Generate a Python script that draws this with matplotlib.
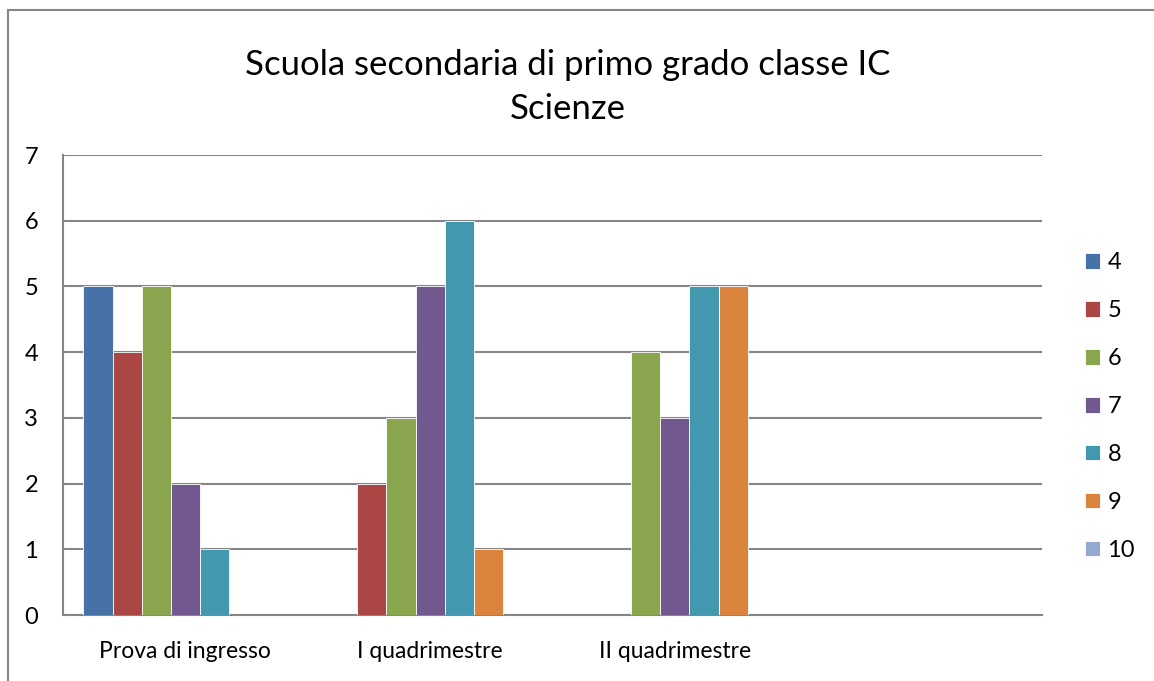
import numpy as np
import matplotlib.pyplot as plt
from matplotlib.patches import Rectangle

plt.rcParams['font.family'] = ['Lato', 'DejaVu Sans']

categorie = ['Prova di ingresso', 'I quadrimestre', 'II quadrimestre', '']
voti = ['4', '5', '6', '7', '8', '9', '10']
v4 = [5, 0, 0, 0]
v5 = [4, 2, 0, 0]
v6 = [5, 3, 4, 0]
v7 = [2, 5, 3, 0]
v8 = [1, 6, 5, 0]
v9 = [0, 1, 5, 0]
v10 = [0, 0, 0, 0]
serie = [v4, v5, v6, v7, v8, v9, v10]
colori = ['#4672A7', '#AA4643', '#89A54E', '#71588F', '#4198AF', '#DB843D', '#93A9CF']

fig = plt.figure(figsize=(11.54, 6.81), dpi=100)
# cornice del grafico (tagliata a destra e in basso)
fig.patches.append(Rectangle((8 / 1154, -0.1), 1.2, 1 - 10 / 681 + 0.1, transform=fig.transFigure,
                             fill=False, edgecolor='#868686', linewidth=1.5))

ax = fig.add_axes([63 / 1154, 1 - 615 / 681, (1042 - 63) / 1154, (615 - 155) / 681])
x = np.arange(len(categorie))
w = 0.119
for i, (s, c) in enumerate(zip(serie, colori)):
    ax.bar(x + (i - 3) * w, s, width=w, color=c, edgecolor='white', linewidth=0.6, label=voti[i], zorder=3)

ax.set_xlim(-0.5, 3.5)
ax.set_ylim(0, 7)
ax.set_yticks(range(8))
ax.set_xticks(x)
ax.set_xticklabels(categorie, fontsize=16.5)
ax.tick_params(axis='y', labelsize=17, length=0, pad=18)
ax.tick_params(axis='x', length=0, pad=19)
ax.grid(axis='y', color='#868686', linewidth=1.5, zorder=0)
for sp in ['top', 'right']:
    ax.spines[sp].set_visible(False)
for sp in ['left', 'bottom']:
    ax.spines[sp].set_color('#868686')
    ax.spines[sp].set_linewidth(1.5)

fig.text(0.492, 1 - 65 / 681, 'Scuola secondaria di primo grado classe IC', fontsize=25, ha='center', va='center')
fig.text(0.492, 1 - 109 / 681, 'Scienze', fontsize=25, ha='center', va='center')

fig.legend(loc='upper left', bbox_to_anchor=(1064 / 1154, 1 - 231 / 681), frameon=False, fontsize=17,
           handlelength=0.64, handleheight=0.64, handletextpad=0.3, labelspacing=1.14)

fig.savefig('out.png', dpi=100)
